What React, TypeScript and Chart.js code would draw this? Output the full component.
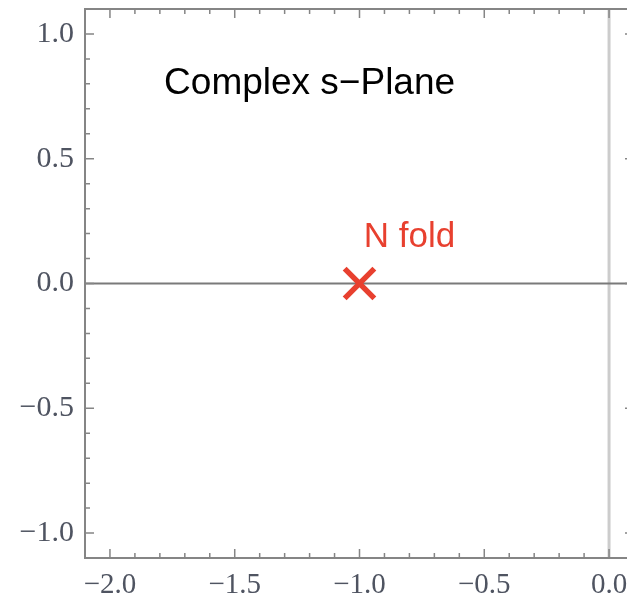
import React, { useEffect, useRef } from 'react';
import { Chart, registerables } from 'chart.js';
Chart.register(...registerables);

const xTickValues = [-2.0, -1.5, -1.0, -0.5, 0.0];
const xTickLabels = ['−2.0', '−1.5', '−1.0', '−0.5', '0.0'];
const yTickValues = [1.0, 0.5, 0.0, -0.5, -1.0];
const yTickLabels = ['1.0', '0.5', '0.0', '−0.5', '−1.0'];
const xMin = -2.1;
const xMax = 0.1;
const yMin = -1.1;
const yMax = 1.1;
const minorStep = 0.1;

const poleRe = [-1.0];
const poleIm = [0.0];

const textLabels = ['Complex s−Plane', 'N fold'];
const textX = [-1.2, -0.8];
const textY = [0.8, 0.185];
const textColors = ['#000000', '#e8402f'];
const textSizes = [37, 35];

const RED = '#e8402f';
const FRAME = '#858585';

const framePlugin = {
  id: 'mmaFrame',
  beforeDatasetsDraw(chart: any) {
    const { ctx, chartArea: a, scales } = chart;
    const x = scales.x, y = scales.y;
    ctx.save();
    ctx.beginPath();
    ctx.rect(a.left, a.top, a.right - a.left, a.bottom - a.top);
    ctx.clip();
    const x0 = x.getPixelForValue(0);
    ctx.strokeStyle = '#cccccc';
    ctx.lineWidth = 3;
    ctx.beginPath();
    ctx.moveTo(x0, a.top);
    ctx.lineTo(x0, a.bottom);
    ctx.stroke();
    const y0 = y.getPixelForValue(0);
    ctx.strokeStyle = '#7a7a7a';
    ctx.lineWidth = 2;
    ctx.beginPath();
    ctx.moveTo(a.left, y0);
    ctx.lineTo(a.right, y0);
    ctx.stroke();
    ctx.restore();
  },
  afterDatasetsDraw(chart: any) {
    const { ctx, chartArea: a, scales } = chart;
    const x = scales.x, y = scales.y;
    ctx.save();
    for (let i = 0; i < textLabels.length; i++) {
      ctx.font = `${textSizes[i]}px "Liberation Sans", Arial, sans-serif`;
      ctx.fillStyle = textColors[i];
      ctx.textAlign = 'center';
      ctx.textBaseline = 'middle';
      ctx.fillText(textLabels[i], x.getPixelForValue(textX[i]), y.getPixelForValue(textY[i]));
    }
    ctx.strokeStyle = FRAME;
    ctx.lineWidth = 2;
    ctx.strokeRect(a.left, a.top, a.right - a.left, a.bottom - a.top);
    ctx.lineWidth = 1.5;
    const isMajor = (vals: number[], v: number) => vals.some((t) => Math.abs(t - v) < 1e-6);
    ctx.beginPath();
    for (let i = Math.ceil(xMin / minorStep - 1e-6); i <= Math.floor(xMax / minorStep + 1e-6); i++) {
      const v = i * minorStep;
      const px = x.getPixelForValue(v);
      const len = isMajor(xTickValues, v) ? 9 : 5;
      ctx.moveTo(px, a.bottom);
      ctx.lineTo(px, a.bottom - len);
      ctx.moveTo(px, a.top);
      ctx.lineTo(px, a.top + len);
    }
    for (let i = Math.ceil(yMin / minorStep - 1e-6); i <= Math.floor(yMax / minorStep + 1e-6); i++) {
      const v = i * minorStep;
      const py = y.getPixelForValue(v);
      const len = isMajor(yTickValues, v) ? 9 : 5;
      ctx.moveTo(a.left, py);
      ctx.lineTo(a.left + len, py);
      ctx.moveTo(a.right, py);
      ctx.lineTo(a.right - len, py);
    }
    ctx.stroke();
    ctx.restore();
  },
};

export default function App() {
  const ref = useRef<HTMLCanvasElement>(null);
  useEffect(() => {
    if (!ref.current) return;
    const family = '"Liberation Serif", "Times New Roman", serif';
    const chart = new Chart(ref.current, {
      type: 'scatter',
      data: {
        datasets: [
          {
            data: poleRe.map((re, i) => ({ x: re, y: poleIm[i] })),
            pointStyle: 'crossRot',
            pointRadius: 21,
            pointHoverRadius: 21,
            borderWidth: 5.5,
            pointBorderWidth: 5.5,
            borderColor: RED,
            backgroundColor: RED,
          },
        ],
      },
      options: {
        responsive: false,
        animation: false,
        events: [],
        layout: { autoPadding: false, padding: { left: 0, right: 26, top: 9, bottom: 0 } },
        plugins: { legend: { display: false }, tooltip: { enabled: false } },
        scales: {
          x: {
            type: 'linear',
            min: xMin,
            max: xMax,
            grid: { display: false, drawTicks: false },
            border: { display: false },
            afterBuildTicks: (s: any) => {
              s.ticks = xTickValues.map((v) => ({ value: v }));
            },
            afterFit: (s: any) => {
              s.height = 38;
              s.paddingLeft = 0;
              s.paddingRight = 0;
              s.paddingTop = 0;
              s.paddingBottom = 0;
            },
            ticks: {
              autoSkip: false,
              maxRotation: 0,
              minRotation: 0,
              padding: 10,
              color: '#4f5461',
              font: { family, size: 29 },
              callback: (_v: any, i: number) => xTickLabels[i],
            },
          },
          y: {
            type: 'linear',
            min: yMin,
            max: yMax,
            grid: { display: false, drawTicks: false },
            border: { display: false },
            afterBuildTicks: (s: any) => {
              s.ticks = yTickValues.map((v) => ({ value: v }));
            },
            afterFit: (s: any) => {
              s.width = 85;
              s.paddingLeft = 0;
              s.paddingRight = 0;
              s.paddingTop = 0;
              s.paddingBottom = 0;
            },
            ticks: {
              autoSkip: false,
              padding: 11,
              color: '#4f5461',
              font: { family, size: 30 },
              callback: (_v: any, i: number) => yTickLabels[i],
            },
          },
        },
      },
      plugins: [framePlugin],
    } as any);
    return () => chart.destroy();
  }, []);
  return (
    <div
      style={{
        position: 'fixed',
        left: 0,
        top: 0,
        width: 627,
        height: 596,
        overflow: 'hidden',
        background: '#fff',
      }}
    >
      <canvas ref={ref} width={660} height={596} style={{ width: 660, height: 596, display: 'block' }} />
    </div>
  );
}
